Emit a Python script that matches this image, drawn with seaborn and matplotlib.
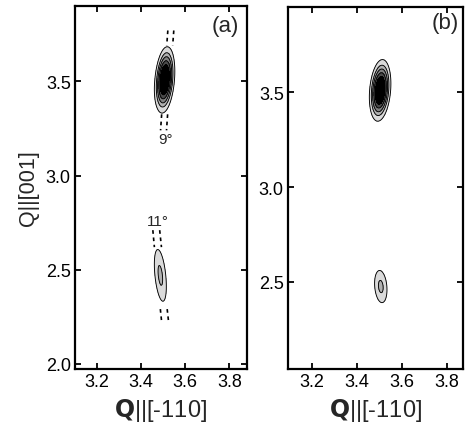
import numpy as np
import matplotlib
matplotlib.use("Agg")
import matplotlib.pyplot as plt
import seaborn as sns

# ---------------- data ----------------
panel_labels = ["(a)", "(b)"]
x_ticks = [3.2, 3.4, 3.6, 3.8]
a_y_ticks = [2.0, 2.5, 3.0, 3.5]
b_y_ticks = [2.5, 3.0, 3.5]
a_xlim = [3.10, 3.88]
a_ylim = [1.973, 3.90]
b_xlim = [3.093, 3.87]
b_ylim = [2.04, 3.95]

# peak components (centre, amplitude, widths, tilt in degrees)
a_peak_x = [3.507, 3.492, 3.487]
a_peak_y = [3.51, 3.43, 2.47]
a_peak_amp = [1.0, 0.03, 0.16]
a_peak_sx = [0.018, 0.022, 0.016]
a_peak_sy = [0.071, 0.06, 0.090]
a_peak_tilt = [4.0, 0.0, -5.0]

b_peak_x = [3.502, 3.505]
b_peak_y = [3.51, 2.475]
b_peak_amp = [1.0, 0.16]
b_peak_sx = [0.019, 0.0176]
b_peak_sy = [0.0665, 0.0556]
b_peak_tilt = [4.0, -4.0]

contour_levels = [0.0497, 0.135, 0.236, 0.375, 0.546, 100.0]

# dotted guide segments in panel (a): x0, y0, x1, y1
guide_x0 = [3.521, 3.493, 3.548, 3.520, 3.453, 3.487, 3.484, 3.518]
guide_y0 = [3.770, 3.325, 3.770, 3.325, 2.710, 2.291, 2.710, 2.291]
guide_x1 = [3.516, 3.488, 3.543, 3.515, 3.460, 3.4935, 3.492, 3.525]
guide_y1 = [3.691, 3.240, 3.691, 3.240, 2.620, 2.217, 2.620, 2.217]

angle_labels = ["9°", "11°"]
angle_label_x = [3.511, 3.475]
angle_label_y = [3.193, 2.758]

# ---------------- styling ----------------
sns.set_style("ticks")
plt.rcParams["font.family"] = ["Liberation Sans", "DejaVu Sans"]
plt.rcParams["axes.linewidth"] = 1.6

fill_colors = ["#dadada", "#b0b0b0", "#808080", "#4a4a4a", "#000000"]


def field(xx, yy, cx, cy, amp, sx, sy, tilt):
    z = np.zeros_like(xx)
    for x0, y0, a, s1, s2, t in zip(cx, cy, amp, sx, sy, tilt):
        th = np.deg2rad(t)
        dx = xx - x0
        dy = yy - y0
        v = dx * np.sin(th) + dy * np.cos(th)
        u = dx * np.cos(th) - dy * np.sin(th)
        z += a * np.exp(-0.5 * ((u / s1) ** 2 + (v / s2) ** 2))
    return z


W, H = 466, 427
fig = plt.figure(figsize=(W / 100, H / 100), dpi=100)
ax_a = fig.add_axes([75 / W, 1 - 370 / H, (247 - 75) / W, (370 - 7) / H])
ax_b = fig.add_axes([288 / W, 1 - 370 / H, (463 - 288) / W, (370 - 8) / H])

panels = [
    (ax_a, a_xlim, a_ylim, a_y_ticks, a_peak_x, a_peak_y, a_peak_amp, a_peak_sx, a_peak_sy, a_peak_tilt),
    (ax_b, b_xlim, b_ylim, b_y_ticks, b_peak_x, b_peak_y, b_peak_amp, b_peak_sx, b_peak_sy, b_peak_tilt),
]
label_pos = [(0.872, 0.947), (0.897, 0.957)]

for i, (ax, xl, yl, yt, px, py, pa, psx, psy, pt) in enumerate(panels):
    gx = np.linspace(xl[0], xl[1], 600)
    gy = np.linspace(yl[0], yl[1], 800)
    xx, yy = np.meshgrid(gx, gy)
    zz = field(xx, yy, px, py, pa, psx, psy, pt)
    ax.contourf(xx, yy, zz, levels=contour_levels, colors=fill_colors)
    ax.contour(xx, yy, zz, levels=contour_levels[:-1], colors="black", linewidths=0.65)
    ax.set_xlim(xl)
    ax.set_ylim(yl)
    ax.set_xticks(x_ticks)
    ax.set_xticklabels([f"{t:.1f}" for t in x_ticks])
    ax.set_yticks(yt)
    ax.set_yticklabels([f"{t:.1f}" for t in yt])
    ax.tick_params(direction="in", top=True, right=True, length=4, width=1.3,
                   labelsize=13, colors="black", pad=3)
    for s in ax.spines.values():
        s.set_visible(True)
        s.set_linewidth(1.6)
        s.set_color("black")
    ax.set_xlabel(r"$\mathbf{Q}$||[-110]", fontsize=17, labelpad=4)
    ax.text(label_pos[i][0], label_pos[i][1], panel_labels[i], transform=ax.transAxes,
            ha="center", va="center", fontsize=16)

ax_a.set_ylabel("Q||[001]", fontsize=15.5, labelpad=5)

for x0, y0, x1, y1 in zip(guide_x0, guide_y0, guide_x1, guide_y1):
    ax_a.plot([x0, x1], [y0, y1], color="black", lw=1.2, linestyle=(0, (2.2, 2.2)))

for t, x, y in zip(angle_labels, angle_label_x, angle_label_y):
    ax_a.text(x, y, t, ha="center", va="center", fontsize=11)

fig.savefig("out.png", dpi=100)
